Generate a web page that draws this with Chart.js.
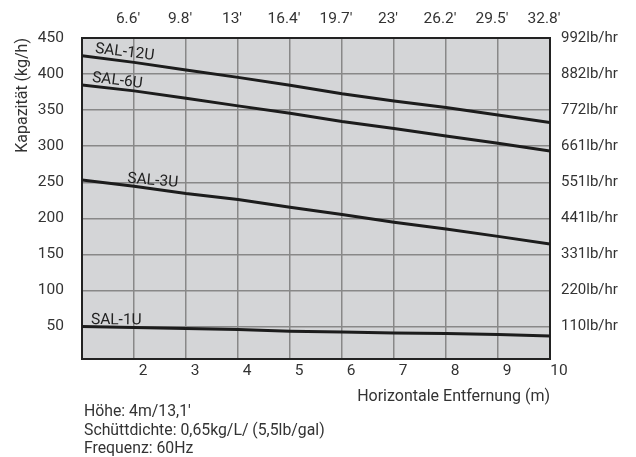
<!DOCTYPE html>
<html>
<head>
<meta charset="utf-8">
<script src="https://cdn.jsdelivr.net/npm/chart.js@4"></script>
<style>
  body { margin: 0; background: #fff; }
  #wrap { position: relative; width: 636px; height: 457px; }
  #notes {
    position: absolute; left: 84px; top: 402px;
    font-family: Roboto, sans-serif; font-size: 15.8px; line-height: 18.5px; color: #333;
  }
</style>
</head>
<body>
<div id="wrap">
  <canvas id="chart"></canvas>
  <div id="notes">Höhe: 4m/13,1'<br>Schüttdichte: 0,65kg/L/ (5,5lb/gal)<br>Frequenz: 60Hz</div>
</div>
<script>
// distance in metres
const distances = [1, 2, 3, 4, 5, 6, 7, 8, 9, 10];
const feetLabels = ["6.6′", "9.8′", "13′", "16.4′", "19.7′", "23′", "26.2′", "29.5′", "32.8′"];

// capacity in kg/h
const sal12u = [425.4, 416.2, 405.5, 395.4, 384.6, 372.6, 362.8, 353.6, 343.4, 332.8];
const sal6u = [385, 376.7, 366.6, 355.9, 345.7, 334.2, 324.4, 314.2, 304, 293.3];
const sal3u = [253, 244.6, 234.4, 226, 215.5, 205.3, 194.6, 185.3, 175, 164.5];
const sal1u = [50, 48.6, 47.2, 45.8, 43.6, 42.6, 41.2, 40.2, 38.9, 37];

const kgTicks = [50, 100, 150, 200, 250, 300, 350, 400, 450];
const lbLabels = ["110lb/hr", "220lb/hr", "331lb/hr", "441lb/hr", "551lb/hr", "661lb/hr", "772lb/hr", "882lb/hr", "992lb/hr"];

const seriesNames = ["SAL-12U", "SAL-6U", "SAL-3U", "SAL-1U"];
const seriesValues = [sal12u, sal6u, sal3u, sal1u];

// where the series names sit (data units) and their tilt in degrees
const nameSpots = [
  { x: 1.82, y: 430, rot: 7 },
  { x: 1.68, y: 390.5, rot: 7 },
  { x: 2.36, y: 252, rot: 5 },
  { x: 1.66, y: 58.6, rot: 0.5 },
];

const textColor = "#333";
const tickFont = { family: "Roboto", size: 15.5 };
const titleFont = { family: "Roboto", size: 16 };

const plotBackground = {
  id: "plotBackground",
  beforeDraw(chart) {
    const { ctx, chartArea: a } = chart;
    ctx.save();
    ctx.fillStyle = "#d4d5d7";
    ctx.fillRect(a.left, a.top, a.right - a.left, a.bottom - a.top);
    ctx.restore();
  },
};

const seriesNamesPlugin = {
  id: "seriesNames",
  afterDatasetsDraw(chart) {
    const { ctx, scales } = chart;
    ctx.save();
    ctx.font = "15.5px Roboto";
    ctx.fillStyle = "#222";
    ctx.textAlign = "center";
    ctx.textBaseline = "middle";
    seriesNames.forEach((name, i) => {
      const s = nameSpots[i];
      ctx.save();
      ctx.translate(scales.x.getPixelForValue(s.x), scales.y.getPixelForValue(s.y));
      ctx.rotate((s.rot * Math.PI) / 180);
      ctx.fillText(name, 0, 0);
      ctx.restore();
    });
    ctx.restore();
  },
};

const setTicks = (values) => (scale) => {
  scale.ticks = values.map((v) => ({ value: v }));
};

new Chart(document.getElementById("chart"), {
  type: "line",
  data: {
    datasets: seriesValues.map((vals, i) => ({
      label: seriesNames[i],
      data: distances.map((d, j) => ({ x: d, y: vals[j] })),
      borderColor: "#1c1c1c",
      borderWidth: 3,
      pointRadius: 0,
      fill: false,
      tension: 0,
    })),
  },
  options: {
    responsive: true,
    maintainAspectRatio: false,
    animation: false,
    layout: { padding: 0 },
    plugins: { legend: { display: false }, tooltip: { enabled: false } },
    scales: {
      x: {
        type: "linear",
        position: "bottom",
        min: 1,
        max: 10,
        afterBuildTicks: setTicks(distances),
        afterFit(scale) { scale.height = 98; },
        grid: { color: "#888", lineWidth: 1.5, drawTicks: false },
        border: { color: "#222", width: 2 },
        ticks: {
          font: tickFont,
          color: textColor,
          padding: 3,
          labelOffset: 9,
          maxRotation: 0,
          autoSkip: false,
          callback: (v) => (v === 1 ? "" : String(v)),
        },
        title: {
          display: true,
          text: "Horizontale Entfernung (m)",
          align: "end",
          font: titleFont,
          color: textColor,
          padding: { bottom: 50 },
        },
      },
      x2: {
        type: "linear",
        position: "top",
        min: 1,
        max: 10,
        afterBuildTicks: setTicks(distances.slice(1)),
        afterFit(scale) { scale.height = 38; },
        grid: { display: false, drawTicks: false },
        border: { color: "#222", width: 2 },
        ticks: {
          font: tickFont,
          color: textColor,
          padding: 10,
          labelOffset: -6,
          maxRotation: 0,
          autoSkip: false,
          callback: (v, i) => feetLabels[i],
        },
      },
      y: {
        position: "left",
        min: 5,
        max: 450,
        afterBuildTicks: setTicks(kgTicks),
        afterFit(scale) { scale.width = 82; },
        grid: { color: "#888", lineWidth: 1.5, drawTicks: false },
        border: { color: "#222", width: 2 },
        ticks: { font: tickFont, color: textColor, padding: 18 },
        title: {
          display: true,
          text: "Kapazität (kg/h)",
          align: "end",
          font: titleFont,
          color: textColor,
          padding: { top: 13 },
        },
      },
      y2: {
        position: "right",
        min: 5,
        max: 450,
        afterBuildTicks: setTicks(kgTicks),
        afterFit(scale) { scale.width = 86; },
        grid: { display: false, drawTicks: false },
        border: { color: "#222", width: 2 },
        ticks: {
          font: { family: "Roboto", size: 15 },
          color: textColor,
          padding: 11,
          callback: (v, i) => lbLabels[i],
        },
      },
    },
  },
  plugins: [plotBackground, seriesNamesPlugin],
});
</script>
</body>
</html>
